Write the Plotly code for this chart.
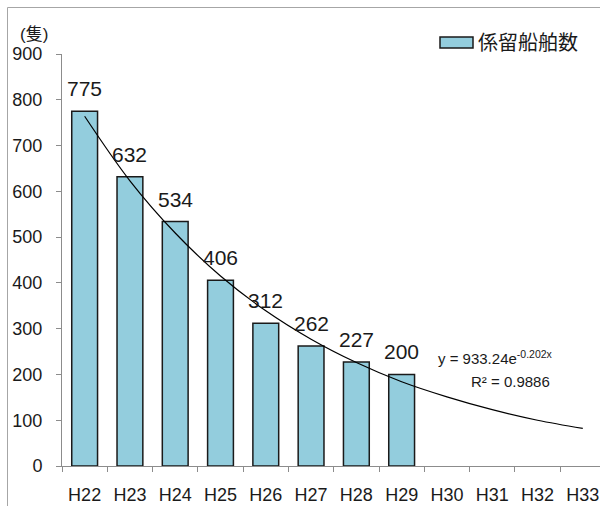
import plotly.graph_objects as go

categories = ["H22", "H23", "H24", "H25", "H26", "H27", "H28", "H29", "H30", "H31", "H32", "H33"]
bar_values = [775, 632, 534, 406, 312, 262, 227, 200]
trend_values = [764, 623, 509, 415, 339, 277, 226, 184, 151, 123, 100, 82]
y_ticks = [0, 100, 200, 300, 400, 500, 600, 700, 800, 900]
series_name = "係留船舶数"
unit_label = "(隻)"
eq_text = "y = 933.24e<sup>-0.202x</sup>"
r2_text = "R² = 0.9886"

W, H = 600, 506
L, R, T, B = 62, 0, 54, 40
pw, ph = W - L - R, H - T - B

def px(x):
    return (x - L) / pw

def py(y):
    return (H - B - y) / ph

FONT = "Liberation Sans, Noto Sans CJK JP, sans-serif"
TXT = "#1a1a1a"
AX = "#8c8c8c"

fig = go.Figure()
fig.add_trace(go.Bar(
    x=categories[:len(bar_values)], y=bar_values, width=0.57,
    marker=dict(color="#93CDDD", line=dict(color="#1a1a1a", width=1.5)),
    showlegend=False, hoverinfo="skip",
))
fig.add_trace(go.Scatter(
    x=categories, y=trend_values, mode="lines",
    line=dict(color="#000000", width=1.2, shape="spline"),
    showlegend=False, hoverinfo="skip",
))

annotations = []
for c, v in zip(categories, bar_values):
    annotations.append(dict(x=c, y=v, xref="x", yref="y", text=str(v), showarrow=False,
                            yanchor="bottom", yshift=9,
                            font=dict(family=FONT, size=21, color=TXT)))
annotations += [
    dict(x=px(495), y=py(357), xref="paper", yref="paper", text=eq_text, showarrow=False,
         xanchor="center", yanchor="middle", font=dict(family=FONT, size=15, color=TXT)),
    dict(x=px(510), y=py(381), xref="paper", yref="paper", text=r2_text, showarrow=False,
         xanchor="center", yanchor="middle", font=dict(family=FONT, size=15, color=TXT)),
    dict(x=px(18), y=py(34), xref="paper", yref="paper", text=unit_label, showarrow=False,
         xanchor="left", yanchor="middle", font=dict(family=FONT, size=17, color=TXT)),
    dict(x=px(476), y=py(43), xref="paper", yref="paper", text=series_name, showarrow=False,
         xanchor="left", yanchor="middle", font=dict(family=FONT, size=20, color=TXT)),
]

shapes = [
    dict(type="rect", xref="paper", yref="paper", x0=px(7.5), y0=py(7.5), x1=px(605), y1=py(515),
         line=dict(color="#a6a6a6", width=1), fillcolor="rgba(0,0,0,0)", layer="below"),
    dict(type="rect", xref="paper", yref="paper", x0=px(440), y0=py(37), x1=px(473), y1=py(48),
         line=dict(color="#1a1a1a", width=1.5), fillcolor="#93CDDD"),
]

fig.update_layout(
    width=W, height=H, margin=dict(l=L, r=R, t=T, b=B),
    paper_bgcolor="white", plot_bgcolor="white",
    bargap=0.43, showlegend=False,
    annotations=annotations, shapes=shapes,
    font=dict(family=FONT, color=TXT),
    xaxis=dict(type="category", categoryorder="array", categoryarray=categories,
               range=[-0.5, 11.38], showline=True, linecolor=AX, linewidth=1,
               ticks="outside", tickson="boundaries", ticklen=5, tickcolor=AX,
               showgrid=False, zeroline=False, tickfont=dict(family=FONT, size=18, color=TXT),
               ticklabelstandoff=12),
    yaxis=dict(range=[0, 900], tickvals=y_ticks, showline=True, linecolor=AX, linewidth=1,
               ticks="outside", ticklen=5, tickcolor=AX, showgrid=False, zeroline=False,
               tickfont=dict(family=FONT, size=18, color=TXT), ticklabelstandoff=10),
)

fig.write_html("out.html")
